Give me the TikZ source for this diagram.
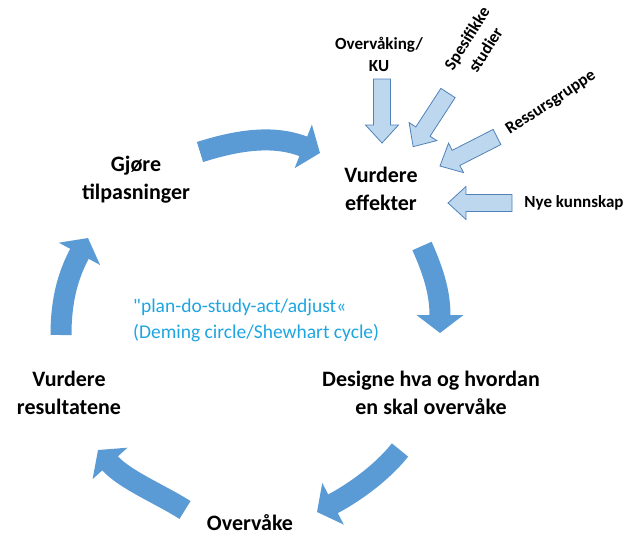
\documentclass[tikz,border=0pt]{standalone}
\usepackage{fontspec}
\setmainfont{Carlito}[Ligatures=TeXOff]
\usetikzlibrary{arrows.meta}
\definecolor{cycleBlue}{RGB}{91,155,213}
\definecolor{feedFill}{RGB}{189,215,238}
\definecolor{feedLine}{RGB}{80,130,185}
\definecolor{textCyan}{RGB}{30,165,225}

\begin{document}
\begin{tikzpicture}[x=1pt,y=-1pt,
    biglabel/.style={font=\fontsize{22}{28}\selectfont\bfseries, align=center, inner sep=0pt},
    smalllabel/.style={font=\fontsize{17}{22}\selectfont\bfseries, align=center, inner sep=0pt},
    cyclearrow/.style={line width=21pt, cycleBlue, -{Triangle[length=18pt,width=46pt]}},
    feedarrow/.pic={\draw[feedLine, fill=feedFill, line width=0.8pt]
        (0,8.5) -- (46,8.5) -- (46,16.5) -- (64,0) -- (46,-16.5) -- (46,-8.5) -- (0,-8.5) -- cycle;}]
        \useasboundingbox (0,0) rectangle (628,536);

        \node[biglabel] (eff) at (381,189) {Vurdere\\effekter};
        \node[biglabel] (gjore) at (136,180) {Gjøre\\tilpasninger};
        \node[biglabel] (design) at (431,393) {Designe hva og hvordan\\en skal overvåke};
        \node[biglabel] (overvake) at (250,523) {Overvåke};
        \node[biglabel] (result) at (69,393) {Vurdere\\resultatene};
        \node[font=\fontsize{19.5}{26}\selectfont, textCyan, align=left, inner sep=0pt, anchor=west] (deming) at (133,320)
            {"plan-do-study-act/adjust«\\(Deming circle/Shewhart cycle)};

        \node[smalllabel] (ku) at (379,54) {Overvåking/\\KU};
        \node[smalllabel, rotate=58] (spes) at (476,44) {Spesifikke\\studier};
        \node[smalllabel, rotate=33] (ress) at (551,103) {Ressursgruppe};
        \node[smalllabel] (nye) at (574,203) {Nye kunnskap};

        \coordinate (kuTail) at (382,79);
        \coordinate (spesTail) at (448,93);
        \coordinate (ressTail) at (497,137);
        \coordinate (nyeTail) at (512,203);
        \pic[rotate=-90] at (kuTail) {feedarrow};
        \pic[rotate=-123] at (spesTail) {feedarrow};
        \pic[rotate=-153] at (ressTail) {feedarrow};
        \pic[rotate=180] at (nyeTail) {feedarrow};

        \coordinate (topTail) at (200,152);
        \coordinate (topTip) at (320,153);
        \coordinate (rightTail) at (422,246);
        \coordinate (rightTip) at (440,333);
        \coordinate (lowTail) at (400,450);
        \coordinate (lowTip) at (317,512);
        \coordinate (leftTail) at (185,510);
        \coordinate (leftTip) at (98,450);
        \coordinate (upTail) at (61,335);
        \coordinate (upTip) at (88,238);
        \draw[cyclearrow] (topTail) .. controls (235,141) and (272,134) .. (topTip);
        \draw[cyclearrow] (rightTail) .. controls (435,275) and (440,295) .. (rightTip);
        \draw[cyclearrow] (lowTail) .. controls (380,475) and (350,495) .. (lowTip);
        \draw[cyclearrow] (leftTail) .. controls (160,494) and (125,480) .. (leftTip);
        \draw[cyclearrow] (upTail) .. controls (61,300) and (68,275) .. (upTip);
      \end{tikzpicture}
\end{document}
